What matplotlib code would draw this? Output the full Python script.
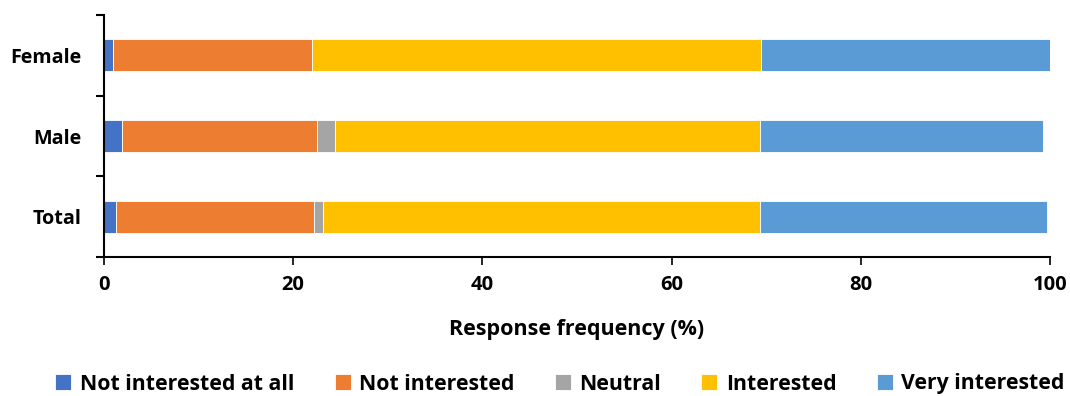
import matplotlib.pyplot as plt
import numpy as np

plt.rcParams['font.family'] = ['Open Sans', 'DejaVu Sans']
plt.rcParams['font.weight'] = 'bold'
plt.rcParams['axes.labelweight'] = 'bold'

# groups, bottom to top
groups = ["Total", "Male", "Female"]
responses = ["Not interested at all", "Not interested", "Neutral", "Interested", "Very interested"]
colors = ["#4472C4", "#ED7D31", "#A5A5A5", "#FFC000", "#5B9BD5"]

not_at_all = [1.3, 1.9, 0.9]
not_interested = [20.9, 20.6, 21.1]
neutral = [0.9, 1.9, 0.0]
interested = [46.2, 44.9, 47.5]
very_interested = [30.4, 30.0, 30.5]

series = [not_at_all, not_interested, neutral, interested, very_interested]

fig = plt.figure(figsize=(10.7, 3.96), dpi=100)
ax = fig.add_axes([104 / 1070, 1 - 257 / 396, (1050 - 104) / 1070, (257 - 15) / 396])

y = np.arange(len(groups))
left = np.zeros(len(groups))
for name, vals, c in zip(responses, series, colors):
    ax.barh(y, vals, left=left, height=0.4, color=c, label=name,
            edgecolor="white", linewidth=0.6)
    left += np.array(vals)

ax.set_xlim(0, 100)
ax.set_ylim(-0.5, 2.5)
ax.set_xticks(np.arange(0, 101, 20))
ax.set_yticks(y)
ax.set_yticklabels(groups, fontweight="bold")
for lbl in ax.get_xticklabels():
    lbl.set_fontweight("bold")
ax.set_yticks([-0.5, 0.5, 1.5, 2.5], minor=True)
ax.tick_params(axis="y", which="major", length=0, pad=16, labelsize=14.2)
ax.tick_params(axis="y", which="minor", length=6, width=1.5, direction="out")
ax.tick_params(axis="x", length=6, width=1.2, direction="out", labelsize=14.5, pad=7)

for s in ["top", "right"]:
    ax.spines[s].set_visible(False)
ax.spines["left"].set_linewidth(1.5)
ax.spines["bottom"].set_linewidth(1.5)

ax.set_xlabel("Response frequency (%)", fontsize=15.5, fontweight="bold", labelpad=17)

fig.legend(loc="center", bbox_to_anchor=(560 / 1070, 1 - 384 / 396), ncol=5,
           frameon=False, prop={"size": 15.3, "weight": "bold"},
           handlelength=0.75, handleheight=0.75,
           handletextpad=0.4, columnspacing=1.9)

fig.savefig("out.png", dpi=100)
